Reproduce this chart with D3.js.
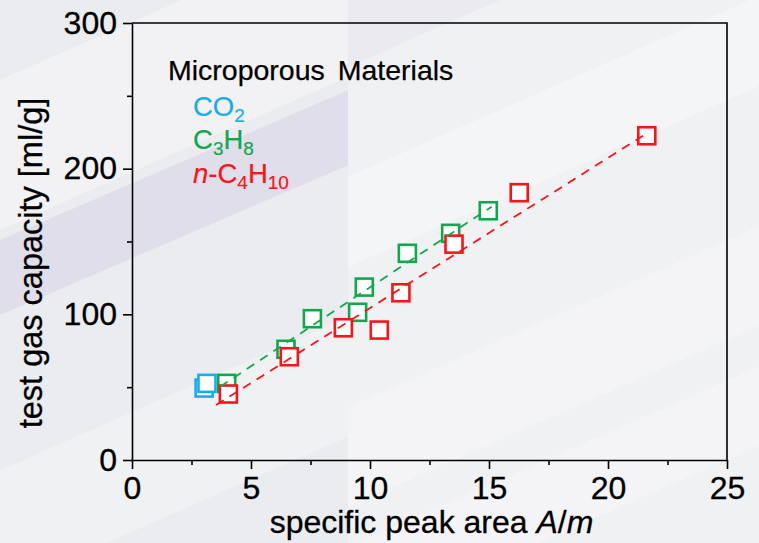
<!DOCTYPE html>
<html>
<head>
<meta charset="utf-8">
<script src="https://cdn.jsdelivr.net/npm/d3@7"></script>
<style>
    body { margin: 0; background: #eeeff2; }
    svg { display: block; font-family: "Liberation Sans", Arial, sans-serif; }
    .axis text { font-size: 32px; fill: #000; stroke: #000; stroke-width: 0.3; }
    .axis path, .axis line { stroke: #000; stroke-width: 1.6; }
</style>
</head>
<body>
<div id="chart"></div>
<script>
// values
var co2X = [3.03, 3.15];
var co2Y = [49.4, 52.6];
var c3h8X = [3.98, 6.47, 7.58, 9.48, 9.76, 11.57, 13.39, 14.97];
var c3h8Y = [52.6, 76.0, 97.0, 101.4, 118.7, 141.9, 155.6, 171.1];
var c4h10X = [4.05, 6.61, 8.88, 10.39, 11.30, 13.53, 16.27, 21.63];
var c4h10Y = [45.3, 70.9, 90.8, 89.2, 114.8, 148.2, 183.5, 222.6];

// dashed fit lines (end points)
var c3h8FitX = [3.70, 15.11];
var c3h8FitY = [50.3, 173.9];
var c4h10FitX = [3.53, 21.63];
var c4h10FitY = [37.7, 224.2];

var xTicks = [0, 5, 10, 15, 20, 25];
var xMinor = [2.5, 7.5, 12.5, 17.5, 22.5];
var yTicks = [0, 100, 200, 300];
var yMinor = [50, 150, 250];

var blue = "#1aace8", green = "#14a64e", red = "#f5151a";

var width = 759, height = 543;
var margin = {top: 23, right: 32, bottom: 83, left: 132};

var svg = d3.select("#chart").append("svg")
    .attr("width", width)
    .attr("height", height);

// ---- background: two panels with faint diagonal bands
var bg = svg.append("g").attr("class", "background");
bg.append("rect").attr("width", 348).attr("height", height).attr("fill", "#eaecef");
bg.append("rect").attr("x", 348).attr("width", width - 348).attr("height", height).attr("fill", "#f0f1f3");

var defs = svg.append("defs");
defs.append("clipPath").attr("id", "leftPanel")
    .append("rect").attr("width", 348).attr("height", height);
defs.append("clipPath").attr("id", "rightPanel")
    .append("rect").attr("x", 348).attr("width", width - 348).attr("height", height);

function band(g, y0, thick, slope, fill, op) {
    var x1 = width;
    g.append("polygon")
        .attr("points", [[0, y0], [x1, y0 - slope * x1], [x1, y0 - slope * x1 + thick], [0, y0 + thick]].join(" "))
        .attr("fill", fill)
        .attr("opacity", op);
}
var leftBands = bg.append("g").attr("clip-path", "url(#leftPanel)");
band(leftBands, 80, 150, 0.44, "#f7f7f9", 0.6);
band(leftBands, 240, 75, 0.43, "#ddd9ea", 0.7);
band(leftBands, 470, 120, 0.44, "#f5f6f7", 0.5);
var rightBands = bg.append("g").attr("clip-path", "url(#rightPanel)");
band(rightBands, 110, 110, 0.44, "#e4e2ed", 0.45);
band(rightBands, 330, 90, 0.44, "#f7f8f9", 0.6);
band(rightBands, 560, 100, 0.44, "#f7f8f9", 0.5);
band(rightBands, 700, 80, 0.44, "#f7f8f9", 0.5);

// ---- scales
var x = d3.scaleLinear().domain([0, 25]).range([margin.left, width - margin.right]);
var y = d3.scaleLinear().domain([0, 300]).range([height - margin.bottom, margin.top]);

// frame (top and right)
svg.append("path")
    .attr("d", "M" + x(0) + "," + y(300) + "H" + x(25) + "V" + y(0))
    .attr("fill", "none")
    .attr("stroke", "#000")
    .attr("stroke-width", 1.6);

// X axis
var xAxis = svg.append("g")
    .attr("class", "axis x-axis")
    .attr("transform", "translate(0," + y(0) + ")")
    .call(d3.axisBottom(x).tickValues(xTicks).tickSize(9).tickSizeOuter(0).tickPadding(5));
xAxis.selectAll("text").attr("dy", "0.78em");
svg.append("g")
    .attr("class", "axis")
    .attr("transform", "translate(0," + y(0) + ")")
    .call(d3.axisBottom(x).tickValues(xMinor).tickSize(5).tickFormat(""))
    .select(".domain").remove();

// Y axis
svg.append("g")
    .attr("class", "axis y-axis")
    .attr("transform", "translate(" + x(0) + ",0)")
    .call(d3.axisLeft(y).tickValues(yTicks).tickSize(9).tickSizeOuter(0).tickPadding(6));
svg.append("g")
    .attr("class", "axis")
    .attr("transform", "translate(" + x(0) + ",0)")
    .call(d3.axisLeft(y).tickValues(yMinor).tickSize(5).tickFormat(""))
    .select(".domain").remove();

// axis titles
svg.append("text")
    .attr("transform", "translate(42," + 263 + ") rotate(-90)")
    .attr("text-anchor", "middle")
    .attr("font-size", 32.5)
    .attr("stroke", "#000").attr("stroke-width", 0.3)
    .text("test gas capacity [ml/g]");

var xt = svg.append("text")
    .attr("x", (x(0) + x(25)) / 2 + 2)
    .attr("y", 533)
    .attr("text-anchor", "middle")
    .attr("font-size", 32)
    .attr("stroke", "#000").attr("stroke-width", 0.3);
xt.append("tspan").text("specific peak area ");
xt.append("tspan").attr("font-style", "italic").text("A");
xt.append("tspan").text("/");
xt.append("tspan").attr("font-style", "italic").text("m");

// ---- markers
function zip(xs, ys) {
    return xs.map(function (d, i) { return {x: d, y: ys[i]}; });
}
var series = [
    {pts: zip(co2X, co2Y), color: blue},
    {pts: zip(c3h8X, c3h8Y), color: green},
    {pts: zip(c4h10X, c4h10Y), color: red}
];
var size = 17;
series.forEach(function (s) {
    svg.append("g").selectAll("rect")
        .data(s.pts)
        .enter().append("rect")
        .attr("x", function (d) { return x(d.x) - size / 2; })
        .attr("y", function (d) { return y(d.y) - size / 2; })
        .attr("width", size)
        .attr("height", size)
        .attr("fill", "#fff")
        .attr("stroke", s.color)
        .attr("stroke-width", 2.6);
});

// dashed fits on top
var line = d3.line()
    .x(function (d) { return x(d.x); })
    .y(function (d) { return y(d.y); });
[[zip(c3h8FitX, c3h8FitY), green], [zip(c4h10FitX, c4h10FitY), red]].forEach(function (f) {
    svg.append("path")
        .datum(f[0])
        .attr("d", line)
        .attr("fill", "none")
        .attr("stroke", f[1])
        .attr("stroke-width", 1.8)
        .attr("stroke-dasharray", "9,7");
});

// ---- legend text
var legend = svg.append("g").attr("class", "legend");
legend.append("text")
    .attr("x", 168).attr("y", 80)
    .attr("font-size", 28.5)
    .attr("word-spacing", 5)
    .attr("stroke", "#000").attr("stroke-width", 0.25)
    .text("Microporous Materials");

function formula(yPos, color, parts) {
    var t = legend.append("text")
        .attr("x", 193).attr("y", yPos)
        .attr("font-size", 27.5)
        .attr("fill", color)
        .attr("stroke", color).attr("stroke-width", 0.2);
    parts.forEach(function (p) {
        var s = t.append("tspan").text(p[0]);
        if (p[1] === "sub") s.attr("font-size", 19).attr("dy", 6);
        if (p[1] === "up") s.attr("dy", -6);
        if (p[1] === "it") s.attr("font-style", "italic");
    });
}
formula(116, blue, [["CO"], ["2", "sub"]]);
formula(149, green, [["C"], ["3", "sub"], ["H", "up"], ["8", "sub"]]);
formula(183, red, [["n", "it"], ["-C"], ["4", "sub"], ["H", "up"], ["10", "sub"]]);
</script>
</body>
</html>
